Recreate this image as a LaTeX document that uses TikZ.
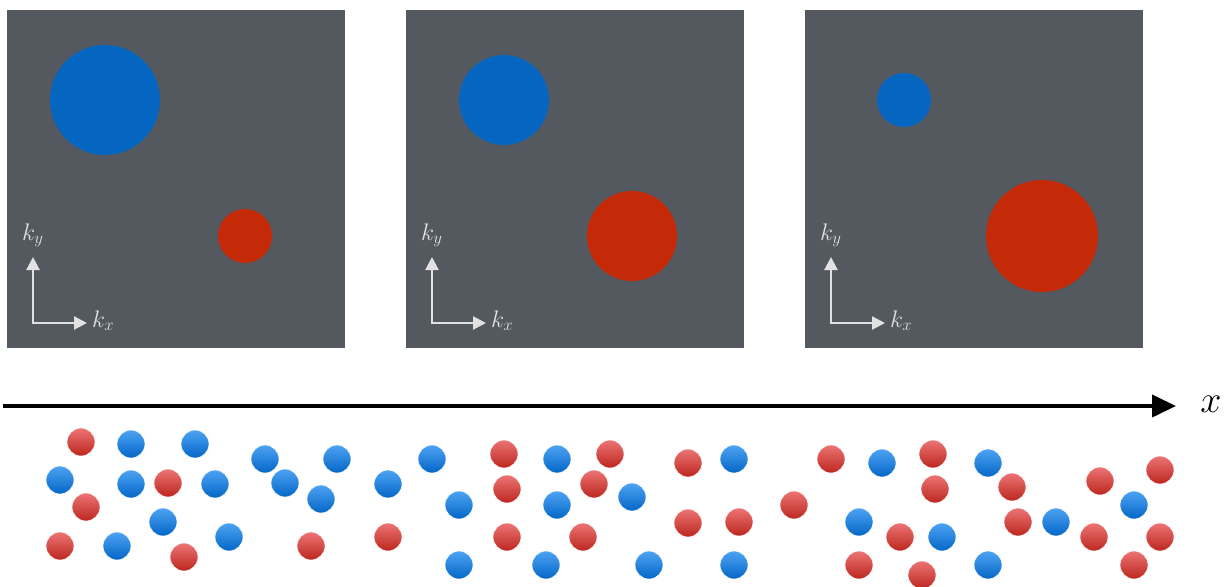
\documentclass[tikz,border=0pt]{standalone}
\usepackage{fix-cm}
\usepackage{amsmath}
\usetikzlibrary{arrows.meta,positioning,calc}
\definecolor{PanelGrey}{HTML}{545960}
\definecolor{SpotBlue}{HTML}{0566C2}
\definecolor{SpotRed}{HTML}{C42908}
\definecolor{AxisGrey}{HTML}{E2E2E2}
\definecolor{BallRedTop}{HTML}{EC7474}
\definecolor{BallRedBot}{HTML}{BC261E}
\definecolor{BallBlueTop}{HTML}{4DA3F3}
\definecolor{BallBlueBot}{HTML}{0466C6}

\begin{document}
\begin{tikzpicture}[x=1pt,y=-1pt,
  panel/.style={fill=PanelGrey,draw=none,minimum size=338pt,inner sep=0pt,anchor=north west},
  kaxis/.style={AxisGrey,line width=2.2pt,-{Triangle[length=13pt,width=13pt]}},
  klabel/.style={AxisGrey,font=\fontsize{24}{28}\selectfont,inner sep=0pt,anchor=base west},
  redball/.style={top color=BallRedTop,bottom color=BallRedBot,draw=white,line width=0.6pt},
  blueball/.style={top color=BallBlueTop,bottom color=BallBlueBot,draw=white,line width=0.6pt}]
  \useasboundingbox (0,0) rectangle (1228,586);

  % Momentum panels
  \foreach \i/\xo/\xb/\rb/\xr/\rr in {1/7/105/55/245/27, 2/406/504/45/632/45, 3/805/904/27/1042/56}{
    \node[panel] (p\i) at (\xo,10) {};
    \fill[SpotBlue] (\xb,100) circle (\rb);
    \fill[SpotRed] (\xr,236) circle (\rr);
    \coordinate (o\i) at ($(p\i.north west)+(26,313)$);
    \coordinate (oy\i) at ($(o\i)+(0,-66)$);
    \coordinate (ox\i) at ($(o\i)+(54,0)$);
    \draw[kaxis] (o\i) -- (oy\i);
    \draw[kaxis] ([xshift=-1.1pt]o\i) -- (ox\i);
    \node[klabel] (ky\i) at ($(o\i)+(-11,-83)$) {$k_y$};
    \node[klabel] (kx\i) at ($(ox\i)+(5,4)$) {$k_x$};
  }

  % Real space axis
  \coordinate (xstart) at (3,406);
  \coordinate (xend) at (1176,406);
  \node[font=\fontsize{38}{40}\selectfont,inner sep=0pt] (xlab) at (1211,404) {$x$};
  \draw[line width=4pt,-{Triangle[length=24pt,width=22pt]}] (xstart) -- (xend);

  % Particles
  \foreach \px/\py in {81/442,168/483,86/507,60/546,184/557,311/546,388/537,
    504/454,610/454,688/463,507/489,594/484,794/505,507/537,583/537,688/523,739/522,
    831/459,933/454,935/489,1012/487,1100/481,1160/470,900/537,1018/522,1094/537,
    1160/537,859/565,922/575,1134/565}{
    \shade[redball] (\px,\py) circle (14);
  }
  \foreach \px/\py in {131/444,195/444,265/459,337/459,60/480,131/484,215/484,285/483,
    321/499,388/484,163/522,229/537,117/546,432/459,557/459,734/459,459/505,557/505,
    632/497,459/565,546/565,649/565,734/565,882/463,988/463,1134/505,859/522,942/537,
    1056/522,988/565}{
    \shade[blueball] (\px,\py) circle (14);
  }
\end{tikzpicture}
\end{document}
